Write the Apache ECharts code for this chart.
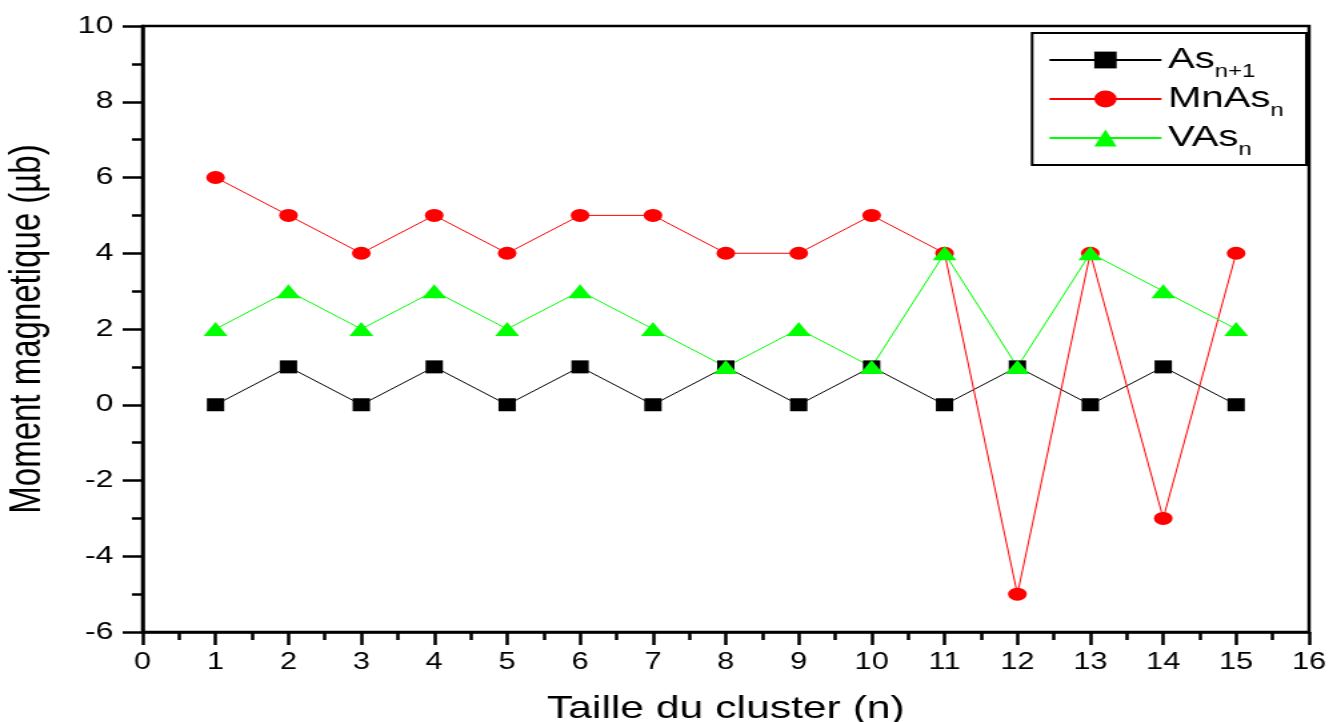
<!DOCTYPE html>
<html>
<head>
<meta charset="utf-8">
<script src="https://cdn.jsdelivr.net/npm/echarts@6/dist/echarts.min.js"></script>
<style>
  html, body { margin: 0; padding: 0; background: #fff; overflow: hidden; }
  /* the source figure is stretched horizontally, so draw narrower and widen it */
  #chart { width: 1000px; height: 722px; transform: scaleX(1.333); transform-origin: 0 0; }
</style>
</head>
<body>
<div id="chart"></div>
<script>
  // taille du cluster n
  var clusterSize = [1, 2, 3, 4, 5, 6, 7, 8, 9, 10, 11, 12, 13, 14, 15];
  var asN1 = [0, 1, 0, 1, 0, 1, 0, 1, 0, 1, 0, 1, 0, 1, 0];
  var mnAsN = [6, 5, 4, 5, 4, 5, 5, 4, 4, 5, 4, -5, 4, -3, 4];
  var vAsN = [2, 3, 2, 3, 2, 3, 2, 1, 2, 1, 4, 1, 4, 3, 2];

  var font = "'Liberation Sans', Arial, sans-serif";

  function pairs(ys) {
    return clusterSize.map(function (x, i) { return [x, ys[i]]; });
  }

  var myChart = echarts.init(document.getElementById('chart'));
  var option = {
    backgroundColor: '#fff',
    animation: false,
    grid: {
      left: 107, right: 18, top: 26, bottom: 90,
      outerBoundsMode: 'none',
      show: true, borderColor: '#000', borderWidth: 2.5, backgroundColor: 'transparent'
    },
    legend: {
      right: 20, top: 33,
      orient: 'vertical',
      itemWidth: 84, itemHeight: 21, itemGap: -3,
      padding: [6, 17, 6, 12],
      borderColor: '#000', borderWidth: 2,
      data: ['As', 'MnAs', 'VAs'],
      formatter: function (name) {
        var sub = name === 'As' ? 'n+1' : 'n';
        return '{b|' + name + '}{s|' + sub + '}';
      },
      textStyle: {
        fontFamily: font, color: '#000',
        rich: {
          b: { fontSize: 30, lineHeight: 30, fontFamily: font, color: '#000' },
          s: { fontSize: 18, lineHeight: 18, fontFamily: font, color: '#000', padding: [24, 0, 0, 0] }
        }
      }
    },
    xAxis: {
      type: 'value', min: 0, max: 16, interval: 1,
      name: 'Taille du cluster (n)', nameLocation: 'middle', nameGap: 61,
      nameTextStyle: { fontFamily: font, fontSize: 32, color: '#000' },
      axisLine: { onZero: false, lineStyle: { color: '#000', width: 2.5 } },
      axisTick: { length: 13, lineStyle: { color: '#000', width: 2.5 } },
      minorTick: { show: true, splitNumber: 2, length: 8, lineStyle: { color: '#000', width: 2.5 } },
      axisLabel: { fontFamily: font, fontSize: 23, color: '#000', margin: 19 },
      splitLine: { show: false }
    },
    yAxis: {
      type: 'value', min: -6, max: 10, interval: 2,
      name: 'Moment magnetique (µb)', nameLocation: 'middle', nameGap: 70,
      nameTextStyle: { fontFamily: font, fontSize: 33, color: '#000' },
      axisLine: { show: true, onZero: false, lineStyle: { color: '#000', width: 2.5 } },
      axisTick: { show: true, length: 15, lineStyle: { color: '#000', width: 2.5 } },
      minorTick: { show: true, splitNumber: 2, length: 8, lineStyle: { color: '#000', width: 2.5 } },
      axisLabel: { fontFamily: font, fontSize: 24, color: '#000', margin: 22 },
      splitLine: { show: false }
    },
    series: [
      {
        name: 'As', type: 'line', data: pairs(asN1),
        symbol: 'rect', symbolSize: 13,
        lineStyle: { color: '#000', width: 1 },
        itemStyle: { color: '#000' }
      },
      {
        name: 'MnAs', type: 'line', data: pairs(mnAsN),
        symbol: 'circle', symbolSize: [14, 13],
        lineStyle: { color: '#ff0000', width: 1 },
        itemStyle: { color: '#ff0000' }
      },
      {
        name: 'VAs', type: 'line', data: pairs(vAsN),
        symbol: 'triangle', symbolSize: [18, 14],
        lineStyle: { color: '#00ff00', width: 1 },
        itemStyle: { color: '#00ff00' }
      }
    ]
  };
  myChart.setOption(option);
</script>
</body>
</html>
